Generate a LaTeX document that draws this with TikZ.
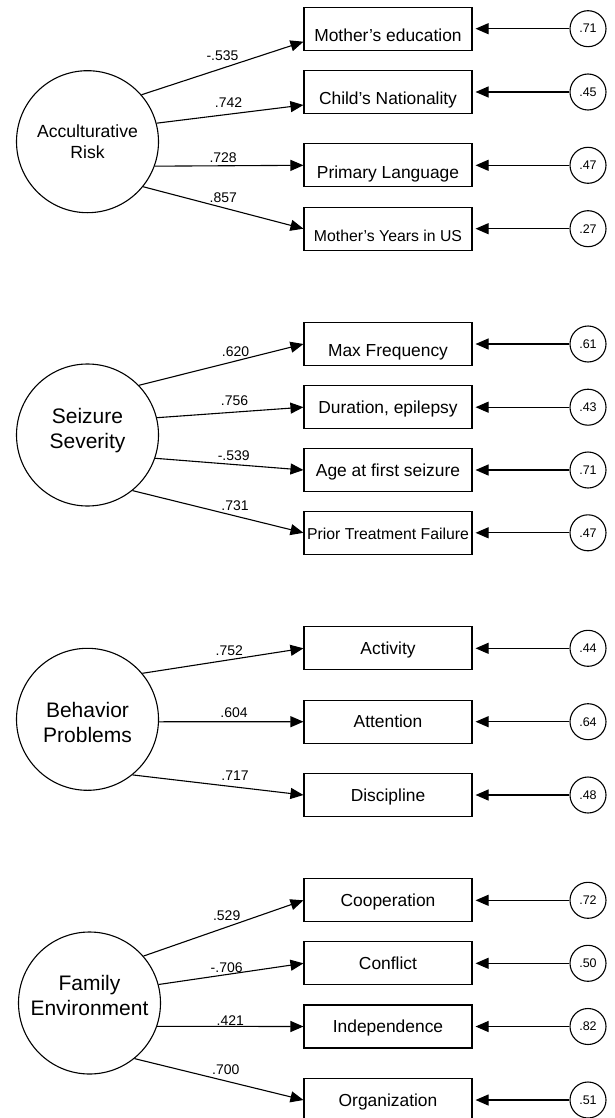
\documentclass[tikz,border=0pt]{standalone}
\usepackage{fontspec}
\setmainfont{Liberation Sans}
\usetikzlibrary{shapes,arrows.meta,calc,positioning}
\tikzstyle{latent} = [circle, draw, minimum size=142pt, inner sep=0pt]
\tikzstyle{latentname} = [align=center, inner sep=0pt, font=\fontsize{21}{25}\selectfont]
\tikzstyle{indicator} = [rectangle, draw, sharp corners, minimum width=168pt, minimum height=43pt, %
inner sep=0pt, text height=12.5pt, text depth=0pt, font=\fontsize{17.4}{20}\selectfont]
\tikzstyle{lowtext} = [text height=25.5pt]
\tikzstyle{smalltext} = [font=\fontsize{15.8}{18}\selectfont]
\tikzstyle{error} = [circle, draw, minimum size=36pt, inner sep=0pt, font=\fontsize{12.5}{14}\selectfont]
\tikzstyle{arrow} = [draw, -{Triangle[length=13pt,width=11pt]}]
\tikzstyle{errarrow} = [arrow, shorten >=3pt]
\tikzstyle{weight} = [above, inner sep=1pt, font=\fontsize{14}{16}\selectfont]

\begin{document}
\begin{tikzpicture}[x=1pt, y=-1pt, line width=1.1pt]
    \useasboundingbox (0,0) rectangle (615,1118);
    \clip (0,0) rectangle (615,1118);
    % acculturative risk
    \node[latent, label={[latentname, font=\fontsize{17.6}{21.3}\selectfont]center:Acculturative\\Risk}] (accult) at (87.5,141.7) {};
    \node[indicator, lowtext] (mothered) at (388,28.7) {Mother's education};
    \node[indicator, lowtext, below of=mothered, node distance=63.3pt] (childnat) {Child's Nationality};
    \node[indicator, lowtext, below of=childnat, node distance=73.3pt] (primlang) {Primary Language};
    \node[indicator, lowtext, smalltext, below of=primlang, node distance=63.4pt] (motheryrs) {Mother's Years in US};
    \node[error, right of=mothered, node distance=200pt] (emothered) {.71};
    \node[error, right of=childnat, node distance=200pt] (echildnat) {.45};
    \node[error, right of=primlang, node distance=200pt] (eprimlang) {.47};
    \node[error, right of=motheryrs, node distance=200pt] (emotheryrs) {.27};
    \path[arrow] (accult.41) -- node[weight, pos=.5, yshift=6pt] {-.535} ($(mothered.west)+(0,13)$);
    \path[arrow] (accult.15.5) -- node[weight, pos=.49, yshift=5.5pt] {.742} ($(childnat.west)+(0,13)$);
    \path[arrow] (accult.-20) -- node[weight, pos=.46, yshift=1.5pt] {.728} (primlang.west);
    \path[arrow] (accult.-39) -- node[weight, pos=.5, yshift=3.6pt] {.857} (motheryrs.west);
    \path[errarrow] (emothered) -- (mothered);
    \path[errarrow] (echildnat) -- (childnat);
    \path[errarrow] (eprimlang) -- (primlang);
    \path[errarrow] (emotheryrs) -- (motheryrs);

    % seizure severity
    \node[latent, label={[latentname, yshift=4pt]center:Seizure\\Severity}] (seizure) at (87.5,435) {};
    \node[indicator, lowtext] (maxfreq) at (388,344) {Max Frequency};
    \node[indicator, below of=maxfreq, node distance=63.2pt] (duration) {Duration, epilepsy};
    \node[indicator, below of=duration, node distance=62.8pt] (agefirst) {Age at first seizure};
    \node[indicator, smalltext, below of=agefirst, node distance=62.8pt] (priortx) {Prior Treatment Failure};
    \node[error, right of=maxfreq, node distance=200pt] (emaxfreq) {.61};
    \node[error, right of=duration, node distance=200pt] (eduration) {.43};
    \node[error, right of=agefirst, node distance=200pt] (eagefirst) {.71};
    \node[error, right of=priortx, node distance=200pt] (epriortx) {.47};
    \path[arrow] (seizure.44.7) -- node[weight, pos=.587, yshift=2.6pt] {.620} (maxfreq.west);
    \path[arrow] (seizure.14) -- node[weight, pos=.53, yshift=5.4pt] {.756} (duration.west);
    \path[arrow] (seizure.-19.8) -- node[weight, pos=.53, yshift=2.3pt] {-.539} (agefirst.west);
    \path[arrow] (seizure.-51) -- node[weight, pos=.6, yshift=3.8pt] {.731} (priortx.west);
    \path[errarrow] (emaxfreq) -- (maxfreq);
    \path[errarrow] (eduration) -- (duration);
    \path[errarrow] (eagefirst) -- (agefirst);
    \path[errarrow] (epriortx) -- (priortx);

    % behavior problems
    \node[latent, label={[latentname, yshift=-3.4pt]center:Behavior\\Problems}] (behav) at (87.5,719.3) {};
    \node[indicator] (activity) at (388,648.3) {Activity};
    \node[indicator, below of=activity, node distance=73.4pt] (attention) {Attention};
    \node[indicator, below of=attention, node distance=73.3pt] (discipline) {Discipline};
    \node[error, right of=activity, node distance=200pt] (eactivity) {.44};
    \node[error, right of=attention, node distance=200pt] (eattention) {.64};
    \node[error, right of=discipline, node distance=200pt] (ediscipline) {.48};
    \path[arrow] (behav.40.4) -- node[weight, pos=.54, yshift=3pt] {.752} (activity.west);
    \path[arrow] (behav.-2.4) -- node[weight, pos=.52, yshift=2.7pt] {.604} (attention.west);
    \path[arrow] (behav.-51) -- node[weight, pos=.6, yshift=5pt] {.717} (discipline.west);
    \path[errarrow] (eactivity) -- (activity);
    \path[errarrow] (eattention) -- (attention);
    \path[errarrow] (ediscipline) -- (discipline);

    % family environment
    \node[latent, label={[latentname, yshift=7.2pt]center:Family\\Environment}] (family) at (89.5,1003) {};
    \node[indicator] (cooperation) at (388,900.3) {Cooperation};
    \node[indicator, below of=cooperation, node distance=63pt] (conflict) {Conflict};
    \node[indicator, below of=conflict, node distance=63.2pt] (independence) {Independence};
    \node[indicator, below of=independence, node distance=73.5pt] (organization) {Organization};
    \node[error, right of=cooperation, node distance=200pt] (ecooperation) {.72};
    \node[error, right of=conflict, node distance=200pt] (econflict) {.50};
    \node[error, right of=independence, node distance=200pt] (eindependence) {.82};
    \node[error, right of=organization, node distance=200pt] (eorganization) {.51};
    \path[arrow] (family.41.5) -- node[weight, pos=.52, yshift=4.7pt] {.529} (cooperation.west);
    \path[arrow] (family.15) -- node[weight, pos=.47, yshift=.5pt] {-.706} (conflict.west);
    \path[arrow] (family.-19.3) -- node[weight, pos=.5, yshift=-.7pt] {.421} (independence.west);
    \path[arrow] (family.-51) -- node[weight, pos=.54, yshift=5.2pt] {.700} (organization.west);
    \path[errarrow] (ecooperation) -- (cooperation);
    \path[errarrow] (econflict) -- (conflict);
    \path[errarrow] (eindependence) -- (independence);
    \path[errarrow] (eorganization) -- (organization);
\end{tikzpicture}
\end{document}
